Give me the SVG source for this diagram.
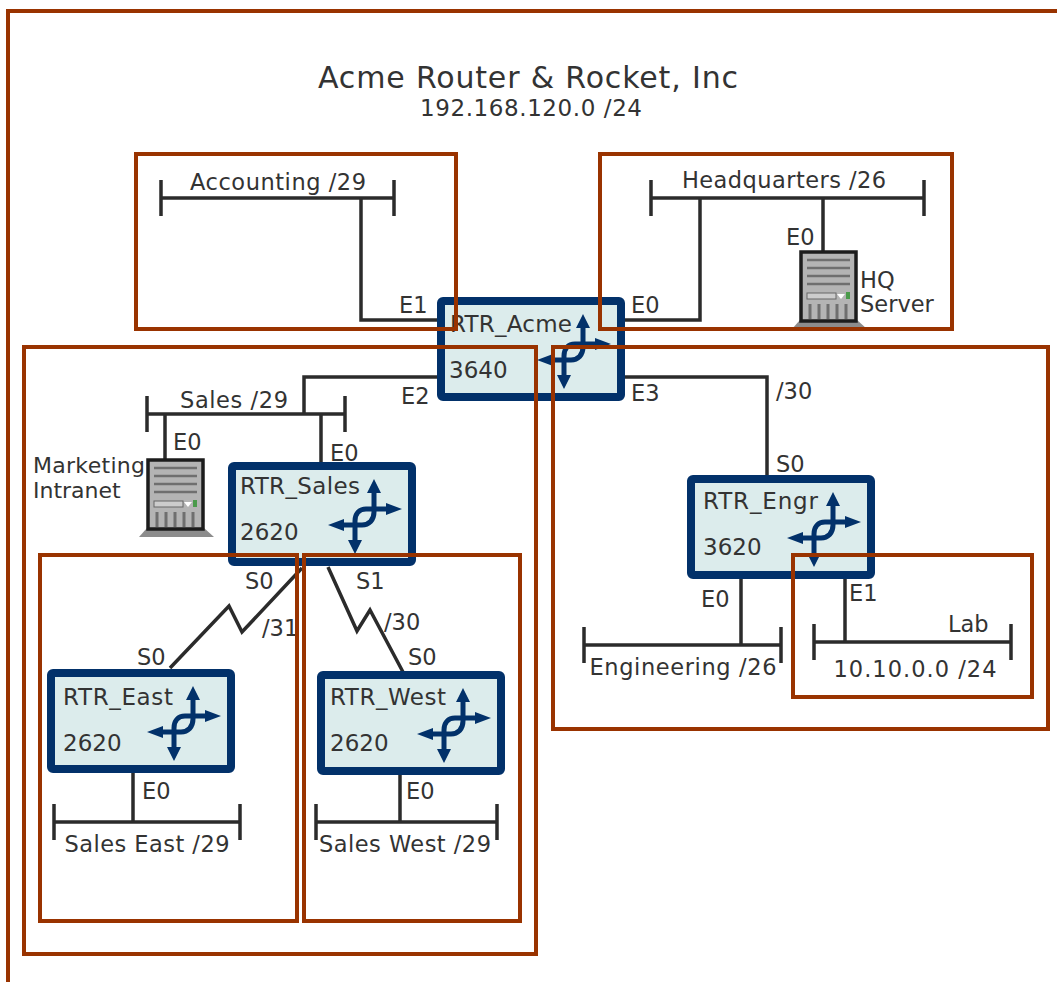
<svg xmlns="http://www.w3.org/2000/svg" xmlns:xlink="http://www.w3.org/1999/xlink" width="1057" height="982" viewBox="0 0 1057 982">
<style>
text{font-family:"DejaVu Sans",Verdana,sans-serif;font-size:22.5px;fill:#333}
.t{font-size:30px}
.s{font-size:23px}
.r{font-size:23px}
.m{font-size:22px}
.l{fill:none;stroke:#2b2b2b;stroke-width:3.5}
.box{fill:#dcecec;stroke:#02316a;stroke-width:8;stroke-linejoin:round}
.arr{fill:none;stroke:#02316a;stroke-width:5}
.ah{fill:#02316a}
.f{fill:none;stroke:#993300;stroke-width:4}
</style>
<defs>
<g id="rt">
<rect class="box" x="4" y="4" width="180" height="96" rx="2"/>
<path class="arr" d="M158 47H138C131 47 127 52 127 59V80M146 30V50C146 58 141 63 134 63H112"/>
<path class="ah" d="M146 17L153 31H139ZM174 47L158 41V53ZM100 63L116 57V69ZM127 92L120 78H134Z"/>
</g>
<g id="srv">
<path d="M-9 77L-1 68H56L66 77Z" fill="#8c8c8c"/>
<rect x="0" y="0" width="55" height="69" fill="#b4b4b4" stroke="#1c1c1c" stroke-width="3.500"/>
<path d="M6 8H49M6 16H49M6 24H49M6 32H49" stroke="#6f6f6f" stroke-width="2.500"/>
<rect x="6" y="41" width="29" height="6" fill="#ccc" stroke="#666"/>
<path d="M36 42H44L40 47Z" fill="#fff"/>
<rect x="45" y="40" width="4" height="7" fill="#4a9a4a"/>
<path d="M9 52V67M18 52V67M27 52V67M36 52V67M45 52V67" stroke="#6f6f6f" stroke-width="3"/>
</g>
</defs>
<rect width="1057" height="982" fill="#fff"/>
<g id="title">
<text class="t" x="528" y="88" text-anchor="middle" textLength="420">Acme Router &amp; Rocket, Inc</text>
<text class="s" x="531" y="116" text-anchor="middle" textLength="222">192.168.120.0 /24</text>
</g>
<g id="connectors">
<path class="l" d="M161 180V216M161 198H394M394 180V216M361 198V320H437"/>
<path class="l" d="M651 180V216M651 198H924M924 180V216M700 198V320H623M823 198V252"/>
<path class="l" d="M147 396V432M147 414H345M345 396V432M304 414V377H437M165 414V460M321 414V463"/>
<path class="l" d="M623 377H767V477"/>
<path class="l" d="M584 627V663M584 645H781M781 627V663M741 579V645"/>
<path class="l" d="M814 624V660M814 642H1011M1011 624V660M845 579V642"/>
<path class="l" d="M302 568L242 632L229 606L170 668"/>
<path class="l" d="M328 567L357 631L370 610L403 672"/>
<path class="l" d="M54 804V840M54 822H240M240 804V840M133 773V822"/>
<path class="l" d="M316 804V840M316 822H497M497 804V840M400 775V822"/>
</g>
<g id="labels">
<text x="278" y="190" text-anchor="middle" textLength="176">Accounting /29</text>
<text x="784" y="188" text-anchor="middle" textLength="204">Headquarters /26</text>
<text x="234" y="408" text-anchor="middle" textLength="108">Sales /29</text>
<text x="399" y="313">E1</text><text x="631" y="313">E0</text>
<text x="786" y="245">E0</text><text x="860" y="288">HQ</text><text x="860" y="312">Server</text>
<text x="401" y="404">E2</text><text x="631" y="401">E3</text><text x="776" y="399">/30</text>
<text x="173" y="450">E0</text><text x="330" y="461">E0</text>
<text class="m" x="33" y="473" textLength="112">Marketing</text><text class="m" x="33" y="498">Intranet</text>
<text x="776" y="472">S0</text>
<text x="245" y="589">S0</text><text x="356" y="589">S1</text><text x="262" y="636">/31</text><text x="384" y="630">/30</text>
<text x="137" y="665">S0</text><text x="408" y="665">S0</text>
<text x="701" y="607">E0</text><text x="849" y="601">E1</text><text x="948" y="632">Lab</text>
<text x="683" y="675" text-anchor="middle" textLength="187">Engineering /26</text>
<text x="915" y="677" text-anchor="middle" textLength="163">10.10.0.0 /24</text>
<text x="142" y="799">E0</text><text x="406" y="799">E0</text>
<text x="147" y="852" text-anchor="middle" textLength="165">Sales East /29</text>
<text x="405" y="852" text-anchor="middle" textLength="172">Sales West /29</text>
</g>
<g id="srv-hq"><use href="#srv" x="801" y="252"/></g>
<g id="srv-mkt"><use href="#srv" x="148" y="460"/></g>
<g id="rtr-acme"><use href="#rt" x="437" y="297"/><text class="r" x="450" y="332" textLength="122">RTR_Acme</text><text class="r" x="449" y="378">3640</text></g>
<g id="rtr-sales"><use href="#rt" x="228" y="462"/><text class="r" x="240" y="494" textLength="120">RTR_Sales</text><text class="r" x="240" y="540">2620</text></g>
<g id="rtr-engr"><use href="#rt" x="687" y="475"/><text class="r" x="703" y="509" textLength="115">RTR_Engr</text><text class="r" x="703" y="555">3620</text></g>
<g id="rtr-east"><use href="#rt" x="47" y="669"/><text class="r" x="63" y="705" textLength="110">RTR_East</text><text class="r" x="63" y="751">2620</text></g>
<g id="rtr-west"><use href="#rt" x="317" y="671"/><text class="r" x="330" y="705" textLength="116">RTR_West</text><text class="r" x="330" y="751">2620</text></g>
<g id="frames">
<path class="f" d="M8 982V11H1057"/>
<rect class="f" x="136" y="154" width="320" height="175"/>
<rect class="f" x="600" y="154" width="352" height="175"/>
<rect class="f" x="24" y="347" width="512" height="607"/>
<rect class="f" x="553" y="347" width="495" height="382"/>
<rect class="f" x="40" y="555" width="257" height="366"/>
<rect class="f" x="304" y="555" width="216" height="366"/>
<rect class="f" x="793" y="555" width="239" height="142"/>
</g>
</svg>
